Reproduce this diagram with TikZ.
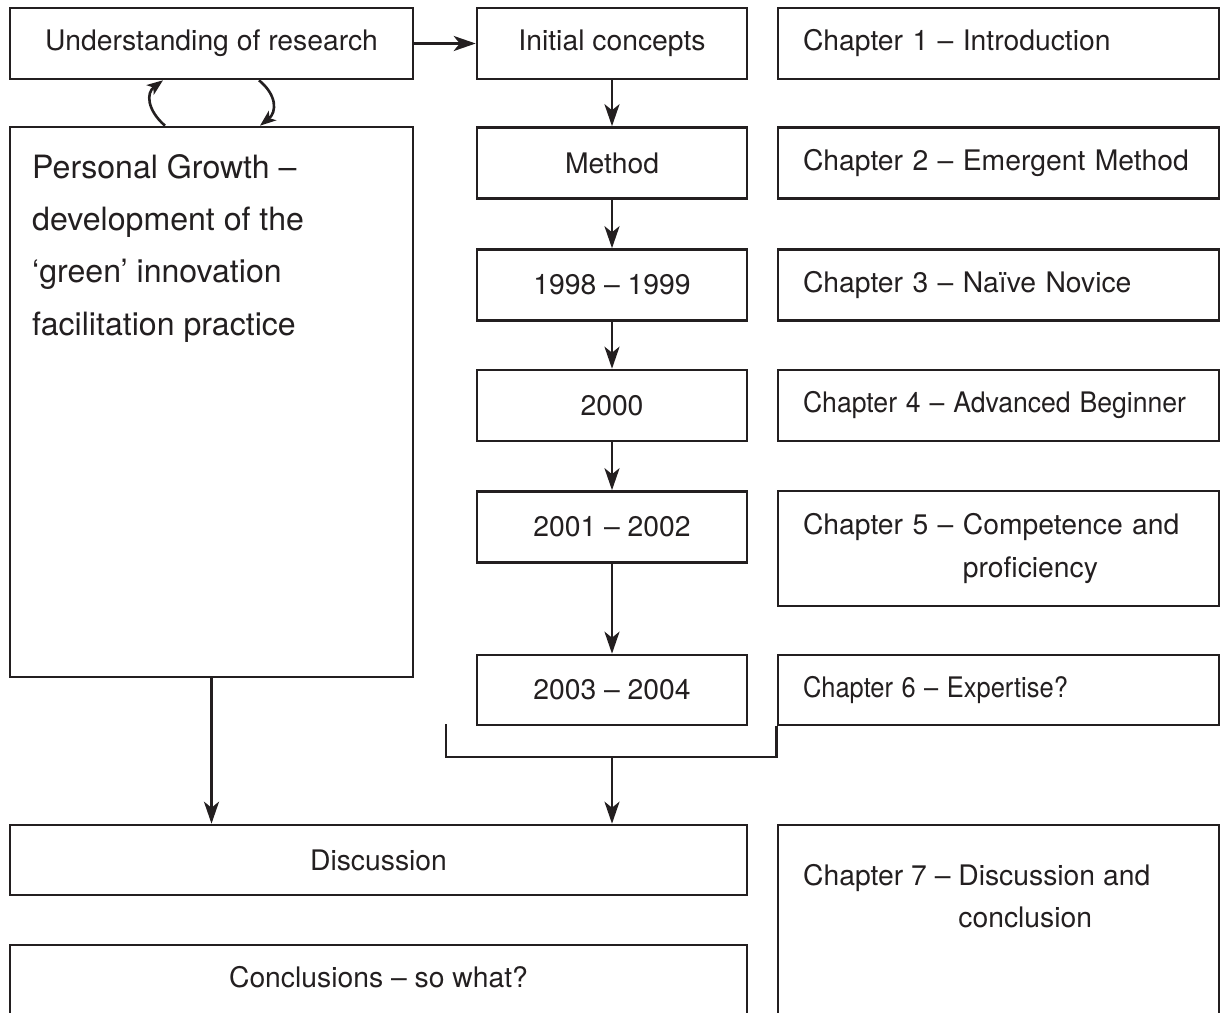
\documentclass[tikz,border=0pt]{standalone}
\usepackage{fontspec}
\usepackage{graphicx}
\setmainfont{TeX Gyre Heros}
\usetikzlibrary{arrows.meta}
\definecolor{ink}{HTML}{231F20}
% keep a chapter title on one line, left aligned in the box
\newcommand{\chapline}[1]{\makebox[\linewidth][l]{#1}}
\begin{document}
\begin{tikzpicture}[x=1pt,y=-1pt,
  every node/.style={text=ink},
  box/.style={draw=ink,line width=2.6pt,inner sep=0pt,
    font=\fontsize{28.3pt}{43pt}\selectfont},
  midbox/.style={box,minimum width=270pt,minimum height=71pt},
  chapbox/.style={box,text width=391pt,inner xsep=25pt,align=left,
    minimum height=71pt},
  wide/.style={box,minimum width=737pt,minimum height=70pt},
  conn/.style={draw=ink,line width=2.6pt},
  arr/.style={conn,-{Stealth[length=22pt,width=15pt,inset=6pt]}},
  looparr/.style={conn,-{Stealth[length=16pt,width=12pt,inset=4pt]}}]
\useasboundingbox (0,0) rectangle (1220,1012);

% left column
\node[box,minimum width=403pt,minimum height=71pt] (und) at (211.5,43.5)
  {Understanding of research};
\node[box,minimum width=403pt,minimum height=550pt] (pg) at (211.5,402) {};
\node[anchor=north west,inner sep=0pt,align=left,
  font=\fontsize{32.1pt}{52.3pt}\selectfont] (pgtext) at (32,154)
  {Personal Growth --\\development of the\\`green' innovation\\facilitation practice};

% middle column
\node[midbox] (init) at (612,43.5) {Initial concepts};
\node[midbox] (meth) at (612,163) {Method};
\node[midbox] (y98) at (612,285) {1998 -- 1999};
\node[midbox] (y00) at (612,405.5) {2000};
\node[midbox] (y01) at (612,527) {2001 -- 2002};
\node[midbox,minimum height=70pt] (y03) at (612,690) {2003 -- 2004};

% chapters
\node[chapbox] (ch1) at (998.5,43.5) {\chapline{Chapter 1 -- Introduction}};
\node[chapbox] (ch2) at (998.5,163) {\chapline{Chapter 2 -- Emergent Method}};
\node[chapbox] (ch3) at (998.5,285) {\chapline{Chapter 3 -- Naïve Novice}};
\node[chapbox] (ch4) at (998.5,405.5)
  {\chapline{\scalebox{0.94}[1]{Chapter 4 -- Advanced Beginner}}};
\node[chapbox,minimum height=115pt] (ch5) at (998.5,548.5)
  {Chapter 5 -- Competence and\\\hphantom{Chapter 5 -- }proficiency};
\node[chapbox,minimum height=70pt] (ch6) at (998.5,690)
  {\chapline{\scalebox{0.9}[1]{Chapter 6 -- Expertise?}}};
\node[box,minimum width=441pt,minimum height=210pt] (ch7) at (998.5,930) {};
\node[anchor=north west,inner sep=0pt,align=left,
  font=\fontsize{28.3pt}{42pt}\selectfont] (ch7text) at (803,864)
  {Chapter 7 -- Discussion and\\\hphantom{Chapter 7 -- }conclusion};

% bottom boxes
\node[wide] (disc) at (378.5,860) {Discussion};
\node[wide,minimum height=100pt] (concl) at (378.5,995) {};
\node[font=\fontsize{28.3pt}{43pt}\selectfont] (concltext) at (378.5,977)
  {Conclusions -- so what?};

% connectors
\draw[arr] (und) -- (init);
\draw[arr] (init) -- (meth);
\draw[arr] (meth) -- (y98);
\draw[arr] (y98) -- (y00);
\draw[arr] (y00) -- (y01);
\draw[arr] (y01) -- (y03);
\draw[looparr] ([xshift=-46.5pt]pg.north) .. controls (147,110) and (146,93)
  .. ([xshift=-48.5pt]und.south);
\draw[looparr] ([xshift=47.5pt]und.south) .. controls (277,95) and (277,112)
  .. ([xshift=48.5pt]pg.north);
\draw[arr] (pg.south) -- (pg.south |- disc.north);

% bracket gathering the years
\coordinate (brl) at (446,724);
\coordinate (brm) at (612,757);
\draw[conn] (brl) |- (brm) -| (ch6.south west);
\draw[arr] (brm) -- (brm |- disc.north);
\end{tikzpicture}
\end{document}
